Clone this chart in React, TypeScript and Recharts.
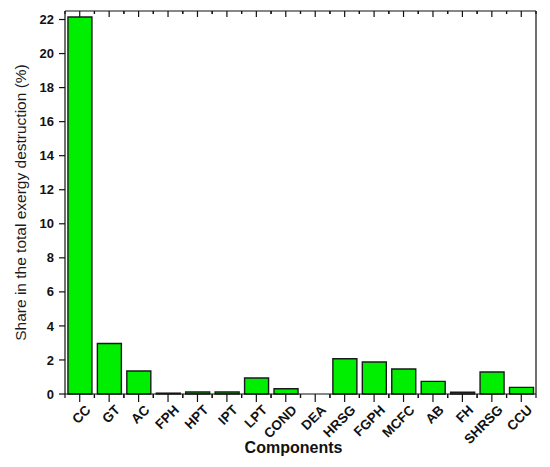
import { BarChart, Bar, XAxis, YAxis, Label } from "recharts";

const components = ["CC", "GT", "AC", "FPH", "HPT", "IPT", "LPT", "COND", "DEA", "HRSG", "FGPH", "MCFC", "AB", "FH", "SHRSG", "CCU"];
const shares = [22.15, 2.97, 1.35, 0.05, 0.12, 0.12, 0.94, 0.31, 0, 2.07, 1.88, 1.47, 0.74, 0.1, 1.29, 0.39];
const yTicks = [0, 2, 4, 6, 8, 10, 12, 14, 16, 18, 20, 22];

const data = components.map((name, i) => ({ name, share: shares[i] }));

const FONT = "'Liberation Sans', Arial, sans-serif";
const INK = "#111";

const BottomTick = (props: any) => {
  const { x, y, payload } = props;
  const half = payload?.offset || 14.7;
  return (
    <g>
      <line x1={x} x2={x} y1={y} y2={y + 8} stroke={INK} strokeWidth={1.2} />
      {[x - half, x + half].map((tx, i) => (
        <line key={i} x1={tx} x2={tx} y1={y} y2={y + 4} stroke={INK} strokeWidth={1.2} />
      ))}
      <text
        x={x + 5}
        y={y + 10}
        textAnchor="end"
        dominantBaseline="hanging"
        transform={`rotate(-45, ${x + 5}, ${y + 10})`}
        fontFamily={FONT}
        fontWeight="bold"
        fontSize={13.5}
        fill={INK}
      >
        {payload.value}
      </text>
    </g>
  );
};

const TopTick = (props: any) => {
  const { x, y, payload } = props;
  const half = payload?.offset || 14.7;
  return (
    <g>
      <line x1={x} x2={x} y1={y} y2={y + 6} stroke={INK} strokeWidth={1.2} />
      {[x - half, x + half].map((tx, i) => (
        <line key={i} x1={tx} x2={tx} y1={y} y2={y + 3} stroke={INK} strokeWidth={1.2} />
      ))}
    </g>
  );
};

const RightTick = (props: any) => {
  const { x, y } = props;
  return <line x1={x - 5} x2={x} y1={y} y2={y} stroke={INK} strokeWidth={1.2} />;
};

export default function App() {
  return (
    <div style={{ position: "absolute", left: 0, top: 0, width: 550, height: 467, background: "#fff" }}>
      <BarChart
        width={550}
        height={467}
        data={data}
        margin={{ top: 10, right: 13, bottom: 13, left: 0 }}
        barCategoryGap="10%"
      >
        <XAxis
          xAxisId="b"
          dataKey="name"
          height={60}
          interval={0}
          tickLine={false}
          tickSize={0}
          tickMargin={0}
          axisLine={{ stroke: INK, strokeWidth: 1.2 }}
          tick={<BottomTick />}
        >
          <Label
            value="Components"
            position="insideBottom"
            offset={1}
            dx={-7}
            style={{ fontFamily: FONT, fontWeight: "bold", fontSize: 16, fill: INK }}
          />
        </XAxis>
        <XAxis
          xAxisId="t"
          dataKey="name"
          orientation="top"
          height={1}
          interval={0}
          tickLine={false}
          tickSize={0}
          tickMargin={0}
          axisLine={{ stroke: INK, strokeWidth: 1.2 }}
          tick={<TopTick />}
        />
        <YAxis
          yAxisId="l"
          width={65}
          domain={[0, 22.5]}
          ticks={yTicks}
          interval={0}
          tickSize={6}
          tickMargin={5}
          axisLine={{ stroke: INK, strokeWidth: 1.2 }}
          tickLine={{ stroke: INK, strokeWidth: 1.2 }}
          tick={{ fontFamily: FONT, fontWeight: "bold", fontSize: 13, fill: INK }}
        >
          <Label
            value="Share in the total exergy destruction (%)"
            angle={-90}
            position="insideLeft"
            offset={20}
            style={{ textAnchor: "middle", fontFamily: FONT, fontSize: 15.5, fill: "#1a1a1a" }}
          />
        </YAxis>
        <YAxis
          yAxisId="r"
          orientation="right"
          width={1}
          domain={[0, 22.5]}
          ticks={yTicks}
          interval={0}
          tickLine={false}
          tickSize={0}
          tickMargin={0}
          axisLine={{ stroke: INK, strokeWidth: 1.2 }}
          tick={<RightTick />}
        />
        <Bar
          xAxisId="b"
          yAxisId="l"
          dataKey="share"
          fill="#00ee00"
          stroke="#1a1a1a"
          strokeWidth={1.4}
          isAnimationActive={false}
        />
      </BarChart>
    </div>
  );
}
